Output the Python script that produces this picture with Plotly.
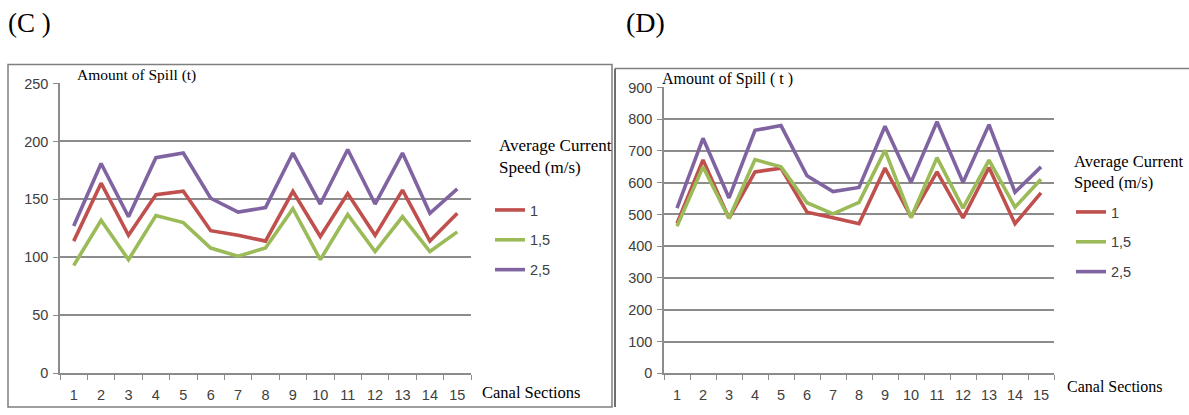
import plotly.graph_objects as go

W, H = 1189, 415

sections = [str(i) for i in range(1, 16)]
speed_labels = ["1", "1,5", "2,5"]
colors = ["#C0504D", "#9BBB59", "#8064A2"]

# Chart (C)
c_speed_1 = [114, 164, 119, 154, 157, 123, 119, 114, 157, 118, 155, 119, 158, 114, 138]
c_speed_15 = [93, 132, 98, 136, 130, 108, 101, 108, 142, 98, 137, 105, 135, 105, 122]
c_speed_25 = [127, 181, 135, 186, 190, 151, 139, 143, 190, 146, 193, 146, 190, 138, 159]

# Chart (D)
d_speed_1 = [472, 672, 488, 634, 646, 507, 490, 471, 646, 492, 634, 489, 648, 471, 568]
d_speed_15 = [463, 650, 488, 673, 650, 537, 502, 538, 702, 490, 679, 520, 671, 523, 611]
d_speed_25 = [520, 740, 552, 765, 780, 622, 572, 585, 778, 601, 792, 601, 783, 570, 650]

c_series = [c_speed_1, c_speed_15, c_speed_25]
d_series = [d_speed_1, d_speed_15, d_speed_25]


def px(x):
    return min(max(x / W, 0), 1)


def py(y):
    return min(max((H - (y - 7.2) / 0.9655) / H, 0), 1)


fig = go.Figure()

for i, (lab, col) in enumerate(zip(speed_labels, colors)):
    fig.add_trace(go.Scatter(x=sections, y=c_series[i], mode="lines", name=lab,
                             line=dict(color=col, width=3.6), xaxis="x", yaxis="y",
                             legend="legend", legendgroup="c" + lab))
for i, (lab, col) in enumerate(zip(speed_labels, colors)):
    fig.add_trace(go.Scatter(x=sections, y=d_series[i], mode="lines", name=lab,
                             line=dict(color=col, width=3.6), xaxis="x2", yaxis="y2",
                             legend="legend2", legendgroup="d" + lab))

grid_col = "#8c8c8c"
tick_font = dict(family="Liberation Sans, Arial, sans-serif", size=14.5, color="#404040")
leg_font = dict(family="Liberation Sans, Arial, sans-serif", size=14.5, color="#404040")
serif = "Liberation Serif, Times New Roman, serif"

xa = dict(type="category", tickson="boundaries", ticks="outside", ticklen=5,
          tickcolor=grid_col, showline=True, linecolor=grid_col, linewidth=1.5,
          showgrid=False, tickfont=tick_font, ticklabelstandoff=8, fixedrange=True,
          range=[-0.5, 14.5])
ya = dict(ticks="outside", ticklen=5, tickcolor=grid_col, showline=True,
          linecolor=grid_col, linewidth=1.5, showgrid=True, gridcolor=grid_col,
          gridwidth=1.5, zeroline=False, tickfont=tick_font, ticklabelstandoff=2,
          fixedrange=True)

fig.update_layout(
    width=W, height=H,
    margin=dict(l=0, r=0, t=0, b=0),
    paper_bgcolor="white", plot_bgcolor="white",
    xaxis=dict(xa, domain=[px(60), px(471)], anchor="y"),
    yaxis=dict(ya, domain=[py(374), py(83)], range=[0, 250], dtick=50, anchor="x"),
    xaxis2=dict(xa, domain=[px(664), px(1054)], anchor="y2"),
    yaxis2=dict(ya, domain=[py(374), py(87)], range=[0, 900], dtick=100, anchor="x2"),
    legend=dict(x=px(490), y=py(194), xanchor="left", yanchor="top",
                traceorder="grouped", tracegroupgap=8, bgcolor="rgba(0,0,0,0)",
                font=leg_font),
    legend2=dict(x=px(1071), y=py(196), xanchor="left", yanchor="top",
                 traceorder="grouped", tracegroupgap=8, bgcolor="rgba(0,0,0,0)",
                 font=leg_font),
    showlegend=True,
)

ann = [
    dict(text="(C )", x=px(5.5), y=py(22), xanchor="left", yanchor="middle",
         font=dict(family=serif, size=27, color="black")),
    dict(text="(D)", x=px(624), y=py(22), xanchor="left", yanchor="middle",
         font=dict(family=serif, size=28, color="black")),
    dict(text="Amount of Spill (t)", x=px(75), y=py(74), xanchor="left", yanchor="middle",
         font=dict(family=serif, size=15.5, color="black")),
    dict(text="Amount of Spill ( t )", x=px(660), y=py(78), xanchor="left", yanchor="middle",
         font=dict(family=serif, size=16, color="black")),
    dict(text="Canal Sections", x=px(480), y=py(393), xanchor="left", yanchor="middle",
         font=dict(family=serif, size=16.5, color="black")),
    dict(text="Canal Sections", x=px(1065), y=py(387), xanchor="left", yanchor="middle",
         font=dict(family=serif, size=16, color="black")),
    dict(text="Average Current<br>Speed (m/s)", x=px(497), y=py(156), xanchor="left",
         yanchor="middle", align="left", font=dict(family=serif, size=17, color="black")),
    dict(text="Average Current<br>Speed (m/s)", x=px(1072), y=py(172), xanchor="left",
         yanchor="middle", align="left", font=dict(family=serif, size=16.5, color="black")),
]
for a in ann:
    a.update(xref="paper", yref="paper", showarrow=False)
fig.update_layout(annotations=ann)

fig.update_layout(shapes=[
    dict(type="rect", xref="paper", yref="paper", x0=px(8), x1=px(612), y0=py(412), y1=py(64),
         line=dict(color="#7f7f7f", width=1.5), layer="below"),
    dict(type="line", xref="paper", yref="paper", x0=px(615), x1=px(615), y0=py(415), y1=py(68),
         line=dict(color="#6f6f6f", width=2)),
    dict(type="line", xref="paper", yref="paper", x0=px(615), x1=1, y0=py(68), y1=py(68),
         line=dict(color="#7f7f7f", width=1.5)),
])

post = (
    "document.documentElement.style.margin='0';"
    "document.documentElement.style.padding='0';"
    "document.documentElement.style.overflow='hidden';"
    "document.body.style.margin='0';"
    "document.body.style.padding='0';"
    "document.body.style.overflow='hidden';"
    "var gd=document.getElementById('{plot_id}');"
    "gd.style.position='fixed';gd.style.left='0px';gd.style.top='0px';"
)

fig.write_html("out.html", config={"displayModeBar": False}, post_script=post)
